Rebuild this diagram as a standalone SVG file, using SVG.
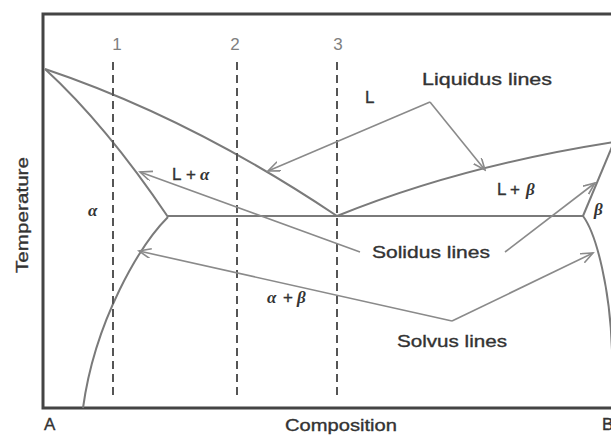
<svg xmlns="http://www.w3.org/2000/svg" width="611" height="435" viewBox="0 0 611 435">
<style>
.frame{fill:none;stroke:#444;stroke-width:3}
.phase{fill:none;stroke:#7a7a7a;stroke-width:2}
.dash{fill:none;stroke:#555;stroke-width:2;stroke-dasharray:8 5}
.arrow{fill:none;stroke:#8a8a8a;stroke-width:1.6;marker-end:url(#ah)}
.lbl{font-family:"Liberation Sans",Arial,sans-serif;font-size:17px;fill:#333;stroke:#333;stroke-width:0.35}
.num{font-family:"Liberation Sans",Arial,sans-serif;font-size:17px;fill:#808080;text-anchor:middle}
.gr{font-family:"Liberation Serif","Times New Roman",serif;font-style:italic;font-weight:bold;font-size:17px;fill:#333}
</style>
<defs>
<marker id="ah" markerUnits="userSpaceOnUse" markerWidth="14" markerHeight="12" refX="12" refY="5" orient="auto">
<path d="M0,0 L12,5 L0,10" fill="none" stroke="#8a8a8a" stroke-width="1.6"/>
</marker>
</defs>
<rect width="611" height="435" fill="#fff"/>
<g id="frame">
<path class="frame" d="M614,14 H43 V408 H614"/>
</g>
<g id="phase-lines">
<path id="liquidus-left" class="phase" d="M45,69 Q191,118 337,216"/>
<path id="solidus-left" class="phase" d="M45,69 Q106,125 168,217"/>
<path id="solvus-left" class="phase" d="M168,217 C140,245 95,320 83,408"/>
<path id="eutectic" class="phase" d="M168,216 H583"/>
<path id="liquidus-right" class="phase" d="M337,216 Q460,166 614,142"/>
<path id="solidus-right" class="phase" d="M583,216 L614,142"/>
<path id="solvus-right" class="phase" d="M583,216 C597,235 610,290 612,350"/>
</g>
<g id="compositions">
<path class="dash" d="M113,62 V397"/>
<path class="dash" d="M237,62 V397"/>
<path class="dash" d="M337,62 V397"/>
<text class="num" x="117" y="50">1</text>
<text class="num" x="235" y="50">2</text>
<text class="num" x="338" y="50">3</text>
</g>
<g id="connectors">
<line class="arrow" x1="430" y1="102" x2="268" y2="171"/>
<line class="arrow" x1="430" y1="102" x2="485" y2="170"/>
<line class="arrow" x1="360" y1="252" x2="140" y2="172"/>
<line class="arrow" x1="505" y1="252" x2="595" y2="183"/>
<line class="arrow" x1="452" y1="321" x2="139" y2="251"/>
<line class="arrow" x1="452" y1="321" x2="593" y2="253"/>
</g>
<g id="labels">
<text class="lbl" x="422" y="85" textLength="130" lengthAdjust="spacingAndGlyphs">Liquidus lines</text>
<text class="lbl" x="365" y="103">L</text>
<text x="172" y="180"><tspan class="lbl">L</tspan><tspan class="lbl" x="186">+</tspan><tspan class="gr" x="200">α</tspan></text>
<text x="497" y="195"><tspan class="lbl">L</tspan><tspan class="lbl" x="510">+</tspan><tspan class="gr" x="526">β</tspan></text>
<text class="gr" x="88" y="216">α</text>
<text class="gr" x="594" y="215">β</text>
<text x="267" y="303"><tspan class="gr">α</tspan><tspan class="lbl" x="283">+</tspan><tspan class="gr" x="297">β</tspan></text>
<text class="lbl" x="372" y="258" textLength="118" lengthAdjust="spacingAndGlyphs">Solidus lines</text>
<text class="lbl" x="397" y="347" textLength="110" lengthAdjust="spacingAndGlyphs">Solvus lines</text>
<text class="lbl" x="285" y="431" textLength="112" lengthAdjust="spacingAndGlyphs">Composition</text>
<text class="lbl" x="44" y="430">A</text>
<text class="lbl" x="602" y="430">B</text>
<text class="lbl" transform="translate(28,215) rotate(-90)" text-anchor="middle" textLength="116" lengthAdjust="spacingAndGlyphs">Temperature</text>
</g>
</svg>
